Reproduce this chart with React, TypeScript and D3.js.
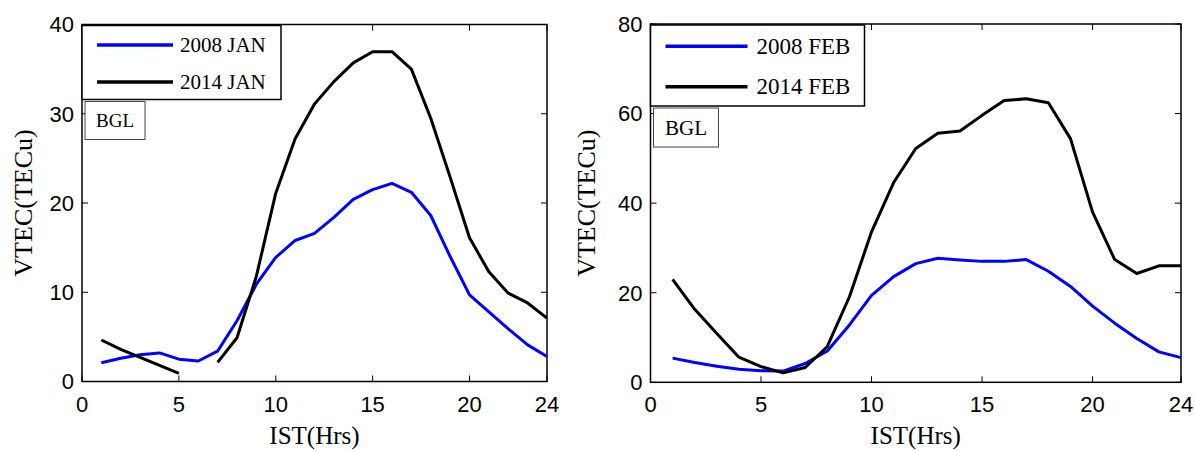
import React from 'react';
import * as d3 from 'd3';

// hours of the day (IST)
const hours = [1, 2, 3, 4, 5, 6, 7, 8, 9, 10, 11, 12, 13, 14, 15, 16, 17, 18, 19, 20, 21, 22, 23, 24];

// January, BGL
const jan2008 = [2.1, 2.6, 3.0, 3.2, 2.5, 2.3, 3.4, 6.8, 10.9, 13.9, 15.8, 16.6, 18.4, 20.4, 21.5, 22.2, 21.2, 18.6, 14.0, 9.7, 7.8, 5.9, 4.1, 2.8];
const jan2014 = [4.65, 3.6, 2.7, 1.8, 0.9, null, 2.15, 4.9, 11.8, 21.1, 27.2, 31.1, 33.6, 35.7, 36.95, 36.95, 35.0, 29.5, 22.9, 16.1, 12.3, 9.9, 8.8, 7.1];

// February, BGL
const feb2008 = [5.4, 4.4, 3.6, 2.9, 2.6, 2.5, 4.2, 7.0, 12.8, 19.4, 23.6, 26.5, 27.7, 27.3, 27.0, 27.0, 27.4, 24.8, 21.4, 17.0, 13.2, 9.8, 6.8, 5.5];
const feb2014 = [23.0, 16.3, 10.9, 5.6, 3.5, 2.1, 3.3, 8.0, 19.1, 33.6, 44.6, 52.2, 55.6, 56.1, 59.6, 62.9, 63.3, 62.4, 54.4, 38.0, 27.4, 24.3, 26.0, 26.0];

const xTicks = [0, 5, 10, 15, 20, 24];
const janYTicks = [0, 10, 20, 30, 40];
const febYTicks = [0, 20, 40, 60, 80];

const SANS = '"Liberation Sans", Arial, sans-serif';
const SERIF = '"Liberation Serif", "Times New Roman", "DejaVu Serif", serif';

type Series = { label: string; color: string; values: (number | null)[] };

type PanelProps = {
  left: number; right: number; top: number; bottom: number;
  yMax: number; yTicks: number[];
  series: Series[];
  legendW: number; legendH: number; legendFont: number;
  bglW: number; bglH: number; bglFont: number;
  ylabelX: number;
};

function Panel(p: PanelProps) {
  const x = d3.scaleLinear().domain([0, 24]).range([p.left, p.right]);
  const y = d3.scaleLinear().domain([0, p.yMax]).range([p.bottom, p.top]);
  const line = d3.line<number | null>()
    .defined((d) => d !== null)
    .x((d, i) => x(hours[i]))
    .y((d) => y(d as number));
  const tick = 6;
  const lx = p.left, ly = p.top + 1;
  const rowH = p.legendH / 2;
  const wide = p.legendW > 200;

  return (
    <g>
      {/* plot box */}
      <rect x={p.left} y={p.top} width={p.right - p.left} height={p.bottom - p.top} fill="none" stroke="#000" strokeWidth={1.5} />
      {xTicks.map((t) => (
        <g key={'x' + t}>
          <line x1={x(t)} x2={x(t)} y1={p.bottom} y2={p.bottom - tick} stroke="#000" strokeWidth={1} />
          <line x1={x(t)} x2={x(t)} y1={p.top} y2={p.top + tick} stroke="#000" strokeWidth={1} />
          <text x={x(t)} y={p.bottom + 30} textAnchor="middle" fontFamily={SANS} fontSize={22} fill="#000">{t}</text>
        </g>
      ))}
      {p.yTicks.map((t) => (
        <g key={'y' + t}>
          <line x1={p.left} x2={p.left + tick} y1={y(t)} y2={y(t)} stroke="#000" strokeWidth={1} />
          <line x1={p.right} x2={p.right - tick} y1={y(t)} y2={y(t)} stroke="#000" strokeWidth={1} />
          <text x={p.left - 8} y={y(t)} dy="0.36em" textAnchor="end" fontFamily={SANS} fontSize={22} fill="#000">{t}</text>
        </g>
      ))}

      {p.series.map((s) => (
        <path key={s.label} d={line(s.values) || ''} fill="none" stroke={s.color} strokeWidth={3} strokeLinejoin="round" />
      ))}

      {/* legend */}
      <rect x={lx} y={ly} width={p.legendW} height={p.legendH} fill="#fff" stroke="#000" strokeWidth={1.5} />
      {p.series.map((s, i) => {
        const cy = ly + rowH * (i + 0.5) + 1;
        return (
          <g key={'lg' + s.label}>
            <line x1={lx + 15} x2={lx + 15 + (wide ? 82 : 76)} y1={cy} y2={cy} stroke={s.color} strokeWidth={3.5} />
            <text x={lx + (wide ? 106 : 98)} y={cy} dy="0.33em" fontFamily={SERIF} fontSize={p.legendFont} fill="#000">{s.label}</text>
          </g>
        );
      })}

      {/* station tag */}
      <rect x={lx + 3} y={ly + p.legendH + 2} width={p.bglW} height={p.bglH} fill="#fff" stroke="#444" strokeWidth={1} />
      <text x={lx + 3 + p.bglW / 2} y={ly + p.legendH + 2 + p.bglH / 2} dy="0.35em" textAnchor="middle" fontFamily={SERIF} fontSize={p.bglFont} fill="#000">BGL</text>

      {/* axis titles */}
      <text x={(p.left + p.right) / 2} y={444} textAnchor="middle" fontFamily={SERIF} fontSize={25} fill="#000">IST(Hrs)</text>
      <text transform={`translate(${p.ylabelX},${(p.top + p.bottom) / 2}) rotate(-90)`} textAnchor="middle" fontFamily={SERIF} fontSize={26} fill="#000">VTEC(TECu)</text>
    </g>
  );
}

export default function App() {
  return (
    <svg width={1195} height={451} style={{ position: 'absolute', left: 0, top: 0, background: '#fff' }}>
      <Panel
        left={82} right={547} top={24.5} bottom={381.5}
        yMax={40} yTicks={janYTicks}
        series={[
          { label: '2008 JAN', color: '#0000ff', values: jan2008 },
          { label: '2014 JAN', color: '#000000', values: jan2014 },
        ]}
        legendW={199} legendH={74} legendFont={21}
        bglW={60} bglH={38} bglFont={19}
        ylabelX={31.5}
      />
      <Panel
        left={650.5} right={1181} top={24} bottom={382.3}
        yMax={80} yTicks={febYTicks}
        series={[
          { label: '2008 FEB', color: '#0000ff', values: feb2008 },
          { label: '2014 FEB', color: '#000000', values: feb2014 },
        ]}
        legendW={214} legendH={81} legendFont={23}
        bglW={65} bglH={39} bglFont={21}
        ylabelX={595}
      />
    </svg>
  );
}
